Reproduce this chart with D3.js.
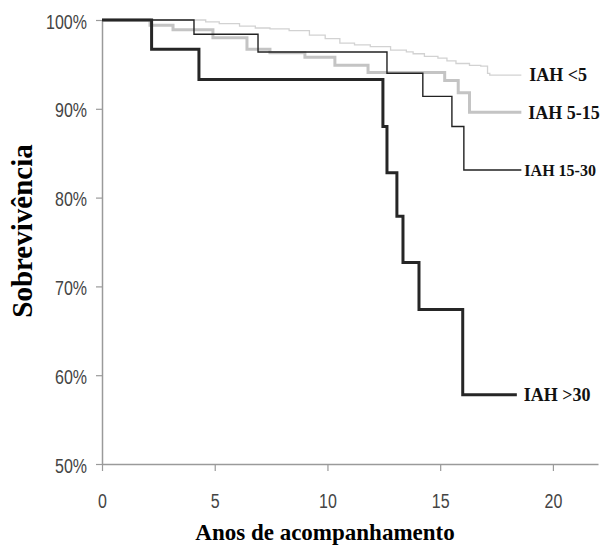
<!DOCTYPE html>
<meta charset="utf-8">
<script src="https://d3js.org/d3.v7.min.js"></script>
<style>
    body { margin: 0; background: #fff; }
    .tick text { font-family: 'Liberation Sans Narrow', 'Arial Narrow', 'Liberation Sans', sans-serif; font-size: 20px; fill: #444; }
    .title { font-family: 'Liberation Serif', 'Times New Roman', serif; font-weight: bold; fill: #000; }
    .lbl { font-family: 'Liberation Serif', 'Times New Roman', serif; font-weight: bold; font-size: 18px; fill: #111; }
</style>
<div id="chart"></div>
<script>
    // survival data: [years, survival %]
    const iah30 = [[0, 100], [2.2, 96.7], [4.3, 93.3], [12.46, 88.0], [12.64, 82.8], [13.08, 77.9],
        [13.35, 72.7], [14.06, 67.4], [16.0, 57.8], [18.4, 57.8]];
    const iah1530 = [[0, 100], [4.08, 98.4], [6.92, 96.4], [12.64, 94.0], [14.23, 91.4],
        [15.52, 88.0], [16.05, 83.1], [18.6, 83.1]];
    const iah515 = [[0, 100], [2.13, 99.4], [3.15, 98.9], [4.92, 98.0], [6.43, 96.7], [7.45, 96.3],
        [9.0, 95.8], [10.33, 94.9], [11.8, 94.1], [15.2, 93.2], [15.8, 91.8], [16.3, 89.6], [18.6, 89.6]];
    const iah5 = [[0, 100], [4.0, 100], [4.6, 99.8], [5.2, 99.6], [6.1, 99.3], [6.8, 99.1], [7.45, 99.0],
        [8.3, 98.8], [9.2, 98.3], [9.9, 97.9], [10.55, 97.4], [11.2, 97.2], [11.9, 97.0], [12.8, 96.6],
        [13.5, 96.4], [13.8, 96.2], [14.3, 95.9], [14.9, 95.7], [15.3, 95.4], [15.7, 95.1], [16.3, 94.9],
        [16.8, 94.8], [17.1, 94.0], [17.2, 93.8], [18.6, 93.8]];

    const xTicks = [0, 5, 10, 15, 20];
    const yTicks = [50, 60, 70, 80, 90, 100];

    const series = [
        {name: "IAH <5", data: iah5, color: "#d2d2d2", width: 1.3, dx: 8, size: 18},
        {name: "IAH 5-15", data: iah515, color: "#c4c4c4", width: 3, dx: 7, size: 18},
        {name: "IAH 15-30", data: iah1530, color: "#222", width: 1.4, dx: 3, size: 16},
        {name: "IAH >30", data: iah30, color: "#262626", width: 3, dx: 7, size: 18}
    ];

    const W = 602, H = 545;
    const svg = d3.select("#chart").append("svg").attr("width", W).attr("height", H);

    const x = d3.scaleLinear().domain([0, 22]).range([102, 598]);
    const y = d3.scaleLinear().domain([50, 100]).range([464, 20]);

    // axes
    const xAxis = svg.append("g")
        .attr("transform", "translate(0," + y(50) + ")")
        .call(d3.axisBottom(x).tickValues(xTicks).tickSize(7).tickPadding(23).tickSizeOuter(0));
    const yAxis = svg.append("g")
        .attr("transform", "translate(" + x(0) + ",0)")
        .call(d3.axisLeft(y).tickValues(yTicks).tickSize(6).tickPadding(9).tickSizeOuter(0)
            .tickFormat(d => d + "%"));
    [xAxis, yAxis].forEach(function (g) {
        g.select(".domain").attr("stroke", "#9a9a9a").attr("stroke-width", 1.5);
        g.selectAll(".tick line").attr("stroke", "#9a9a9a").attr("stroke-width", 1.2);
        // narrow the tick labels (no Arial Narrow installed)
        g.selectAll(".tick text").each(function () {
            const len = this.getComputedTextLength();
            d3.select(this).attr("textLength", len * 0.8).attr("lengthAdjust", "spacingAndGlyphs");
        });
    });
    yAxis.selectAll(".tick text").attr("dy", "0.4em");

    // curves
    const line = d3.line()
        .x(d => x(d[0]))
        .y(d => y(d[1]))
        .curve(d3.curveStepAfter);

    series.forEach(function (s) {
        svg.append("path")
            .datum(s.data)
            .attr("fill", "none")
            .attr("stroke", s.color)
            .attr("stroke-width", s.width)
            .attr("d", line);
        const last = s.data[s.data.length - 1];
        svg.append("text")
            .attr("class", "lbl")
            .attr("x", x(last[0]) + s.dx)
            .attr("y", y(last[1]))
            .attr("dy", "0.35em")
            .style("font-size", s.size + "px")
            .text(s.name);
    });

    // titles
    svg.append("text")
        .attr("class", "title")
        .attr("x", 325).attr("y", 540)
        .attr("text-anchor", "middle")
        .style("font-size", "23px")
        .text("Anos de acompanhamento");

    svg.append("text")
        .attr("class", "title")
        .attr("transform", "translate(32,231) rotate(-90)")
        .attr("text-anchor", "middle")
        .style("font-size", "29px")
        .text("Sobrevivência");
</script>
